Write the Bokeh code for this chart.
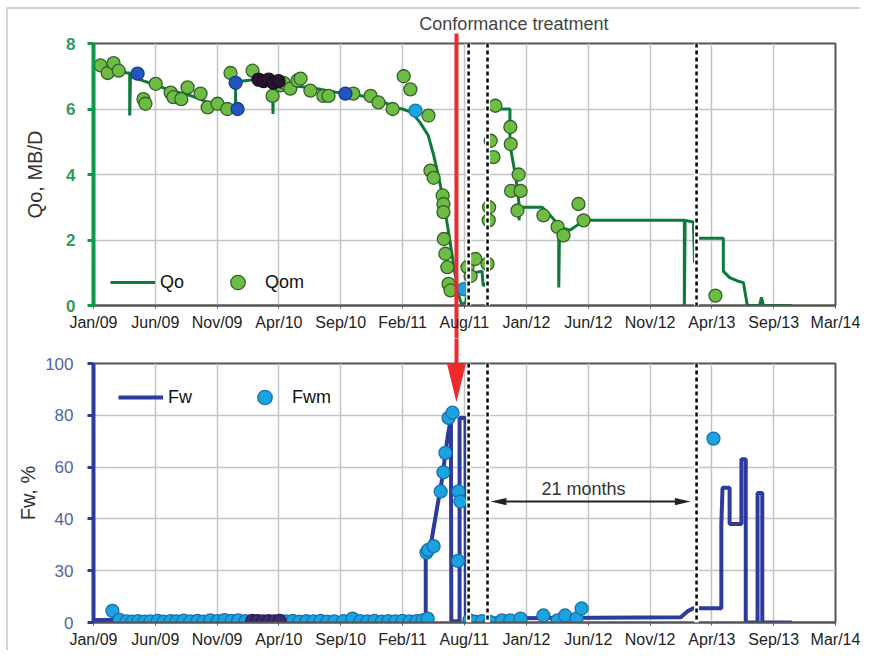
import pandas as pd
from bokeh.plotting import figure
from bokeh.layouts import column
from bokeh.models import (Range1d, FixedTicker, Span, Arrow, Label, Legend,
                          LegendItem, PolyAnnotation, LinearAxis)
from bokeh.embed import file_html
from bokeh.resources import INLINE

# ---------------- data ----------------
START = "2009-01-01"
END = "2014-03-01"
x_tick_labels = ["Jan/09", "Jun/09", "Nov/09", "Apr/10", "Sep/10", "Feb/11", "Aug/11",
                 "Jan/12", "Jun/12", "Nov/12", "Apr/13", "Sep/13", "Mar/14"]
qo_ticks = [0, 2, 4, 6, 8]
fw_ticks = [0, 20, 40, 60, 80, 100]
fw_tick_labels = ["0", "30", "40", "60", "80", "100"]

qo_dates = ["2009-01-04", "2009-03-10", "2009-03-25", "2009-04-03", "2009-04-03", "2009-04-05",
            "2009-05-10", "2009-06-15", "2009-07-20", "2009-08-25", "2009-09-30", "2009-10-25",
            "2009-11-20", "2009-12-10", "2009-12-28", "2009-12-28", "2010-01-10", "2010-02-20",
            "2010-03-20", "2010-04-01", "2010-04-02", "2010-04-03", "2010-06-01", "2010-08-01",
            "2010-09-15", "2010-11-15", "2011-01-10", "2011-02-05", "2011-02-25", "2011-03-20",
            "2011-04-10", "2011-05-01", "2011-05-15", "2011-05-30", "2011-06-12", "2011-06-25",
            "2011-07-08", "2011-07-18", "2011-07-25", "2011-08-05", "2011-08-15", "2011-08-28",
            "2011-09-15", "2011-09-18", "2011-09-28", "2011-09-28", "2011-11-25", "2011-11-25",
            "2011-12-10", "2011-12-18", "2011-12-18", "2011-12-20", "2012-02-15", "2012-03-10",
            "2012-03-28", "2012-03-28", "2012-03-30", "2012-04-25", "2012-05-20", "2012-06-05",
            "2013-02-10", "2013-02-10", "2013-02-12", "2013-03-05", "2013-03-08", "2013-03-12",
            "2013-05-20", "2013-05-20", "2013-06-05", "2013-06-25", "2013-07-10", "2013-07-20",
            "2013-08-20", "2013-08-25", "2013-08-30", "2013-11-10"]
qo_values = [7.30, 7.30, 7.10, 7.10, 5.80, 7.00,
             6.85, 6.70, 6.55, 6.45, 6.30, 6.15,
             6.00, 6.00, 6.05, 6.80, 6.85, 6.90,
             6.85, 6.85, 5.85, 6.80, 6.70, 6.60,
             6.50, 6.40, 6.20, 6.05, 6.00, 5.90,
             5.60, 5.20, 4.60, 3.80, 3.00, 2.00,
             1.00, 0.30, 0.05, 0.10, 0.80, 1.00,
             1.05, 0.60, 0.70, 6.00, 6.00, 4.90,
             3.90, 3.10, 2.60, 3.00, 3.00, 2.70,
             2.45, 0.55, 2.40, 2.30, 2.50, 2.60,
             2.60, 0.00, 2.60, 2.55, 1.30, 2.05,
             2.05, 1.05, 0.85, 0.75, 0.70, 0.00,
             0.00, 0.25, 0.00, 0.00]

qom_dates = ["2009-01-19", "2009-02-06", "2009-02-21", "2009-03-06", "2009-05-08", "2009-05-13",
             "2009-06-08", "2009-07-16", "2009-07-23", "2009-08-12", "2009-08-28", "2009-09-30",
             "2009-10-18", "2009-11-12", "2009-12-07", "2009-12-15", "2010-02-09", "2010-04-01",
             "2010-04-21", "2010-04-29", "2010-05-16", "2010-06-03", "2010-06-11", "2010-07-06",
             "2010-08-08", "2010-08-21", "2010-10-23", "2010-12-06", "2010-12-26", "2011-01-31",
             "2011-02-28", "2011-03-17", "2011-05-02", "2011-05-07", "2011-05-15", "2011-06-07",
             "2011-06-09", "2011-06-09", "2011-06-10", "2011-06-14", "2011-06-19", "2011-06-22",
             "2011-06-27", "2011-08-09", "2011-08-17", "2011-08-29", "2011-09-29", "2011-10-02",
             "2011-10-03", "2011-10-07", "2011-10-14", "2011-10-19", "2011-11-26", "2011-11-27",
             "2011-11-28", "2011-12-14", "2011-12-17", "2011-12-22", "2012-02-18", "2012-03-25",
             "2012-04-09", "2012-05-17", "2012-05-30", "2013-04-30"]
qom_values = [7.33, 7.10, 7.40, 7.17, 6.30, 6.16,
              6.77, 6.50, 6.36, 6.30, 6.66, 6.47,
              6.05, 6.16, 6.00, 7.10, 7.17, 6.40,
              6.72, 6.80, 6.62, 6.87, 6.93, 6.56,
              6.40, 6.40, 6.47, 6.40, 6.20, 6.00,
              7.00, 6.60, 5.80, 4.12, 3.90, 3.36,
              3.10, 2.85, 2.03, 1.58, 1.17, 0.66,
              0.46, 1.17, 0.90, 1.42, 1.27, 2.60,
              3.00, 5.03, 4.53, 6.10, 5.45, 4.93,
              3.50, 2.90, 4.00, 3.50, 2.75, 2.40,
              2.14, 3.10, 2.60, 0.30]
qom_blue_dates = ["2009-04-23", "2009-12-28", "2010-01-02", "2010-10-03"]
qom_blue_values = [7.08, 6.80, 6.00, 6.47]
qom_dark_dates = ["2010-02-24", "2010-03-09", "2010-03-22", "2010-04-03", "2010-04-16"]
qom_dark_values = [6.90, 6.85, 6.90, 6.80, 6.85]
qom_cyan_dates = ["2011-03-30", "2011-07-31"]
qom_cyan_values = [5.95, 0.50]

fw_dates = ["2009-01-04", "2011-04-25", "2011-04-25", "2011-05-10", "2011-06-05", "2011-06-20",
            "2011-06-28", "2011-06-29", "2011-07-20", "2011-07-20", "2011-08-04", "2011-08-05",
            "2011-08-10", "2013-02-01", "2013-02-20", "2013-03-05", "2013-05-15", "2013-05-15",
            "2013-05-18", "2013-06-05", "2013-06-05", "2013-07-05", "2013-07-05", "2013-07-16",
            "2013-07-16", "2013-08-15", "2013-08-15", "2013-08-27", "2013-08-27", "2013-11-10"]
fw_values = [1.0, 1.0, 27.0, 32.0, 55.0, 72.0,
             79.0, 0.5, 0.5, 79.0, 79.0, 0.5,
             1.5, 2.0, 4.5, 5.5, 5.5, 38.0,
             52.0, 52.0, 38.0, 38.0, 63.0, 63.0,
             0.0, 0.0, 50.0, 50.0, 0.0, 0.0]

fwm_dates = ["2009-02-18", "2009-03-08", "2009-03-26", "2009-04-10", "2009-04-25", "2009-05-11",
             "2009-05-26", "2009-06-13", "2009-06-28", "2009-07-16", "2009-07-31", "2009-08-18",
             "2009-09-04", "2009-09-22", "2009-10-07", "2009-10-25", "2009-11-12", "2009-11-30",
             "2009-12-18", "2010-01-04", "2010-01-22", "2010-05-04", "2010-05-22", "2010-06-08",
             "2010-06-26", "2010-07-14", "2010-08-01", "2010-08-18", "2010-09-05", "2010-09-28",
             "2010-10-21", "2010-11-10", "2010-11-28", "2010-12-16", "2011-01-03", "2011-01-20",
             "2011-02-07", "2011-02-25", "2011-03-15", "2011-04-02", "2011-04-17", "2011-04-30",
             "2011-04-27", "2011-05-01", "2011-05-15", "2011-06-02", "2011-06-09", "2011-06-14",
             "2011-06-22", "2011-07-02", "2011-07-16", "2011-07-17", "2011-07-22", "2011-08-14",
             "2011-08-28", "2011-09-15", "2011-10-05", "2011-11-05", "2011-11-26", "2011-12-22",
             "2012-02-18", "2012-03-25", "2012-04-13", "2012-05-12", "2012-05-25", "2013-04-25"]
fwm_values = [4.5, 1.0, 0.4, 0.3, 0.5, 0.3,
              0.4, 0.6, 0.3, 0.5, 0.4, 0.7,
              0.4, 0.6, 0.3, 0.8, 0.5, 0.9,
              0.6, 0.8, 0.5, 0.4, 0.6, 0.3,
              0.5, 0.4, 0.6, 0.3, 0.4, 0.5,
              1.5, 0.5, 0.4, 0.6, 0.3, 0.5,
              0.4, 0.6, 0.4, 0.5, 0.8, 1.5,
              27.0, 28.0, 29.5, 50.6, 58.0, 65.5,
              79.0, 81.0, 23.8, 50.6, 46.7, 0.8,
              0.3, 0.5, 0.2, 0.8, 0.8, 1.5,
              2.7, 0.8, 2.7, 1.5, 5.4, 71.0]
fwm_dark_dates = ["2010-02-08", "2010-02-22", "2010-03-08", "2010-03-22", "2010-04-05", "2010-04-19"]
fwm_dark_values = [0.6, 0.5, 0.4, 0.5, 0.4, 0.6]

treatment_date = "2011-07-12"
dashed_dates = ["2011-08-12", "2011-09-29", "2013-03-13"]
months_arrow_dates = ["2011-10-07", "2013-02-26"]
months_arrow_level = 46.7
months_text = "21 months"
months_text_date = "2012-05-30"
title_text = "Conformance treatment"
title_date = "2011-12-05"


def days(dates):
    return [int(d) for d in (pd.to_datetime(pd.Series(dates)) - pd.Timestamp(START)).dt.days]


X_END = days([END])[0]
x_ticks = [round(k * X_END / (len(x_tick_labels) - 1)) for k in range(len(x_tick_labels))]
xr = days([treatment_date])[0]
xt = days([title_date])[0]

FONT = "Liberation Sans"
GREEN_LINE = "#0b7a3b"
GREEN_AX = "#0a9a48"
BLUE_LINE = "#2d3b9c"
RED = "#ee2a2e"
LEFT = 85


def make_fig(height, btop, bbot, ymax, yticks, ycolor, ylabcolor, ylabel, ystand, alstand,
             bold, red_below):
    p = figure(width=LEFT + 742 + 25, height=height, x_range=Range1d(0, X_END),
               y_range=Range1d(0, ymax), output_backend="svg", toolbar_location=None,
               min_border_left=LEFT, min_border_right=25, min_border_top=btop,
               min_border_bottom=bbot)
    p.background_fill_color = "white"
    p.border_fill_color = "white"
    p.outline_line_color = "#555555"
    p.outline_line_width = 2
    xa = p.xaxis[0]
    xa.ticker = FixedTicker(ticks=x_ticks, minor_ticks=[xr] if red_below else [])
    xa.major_label_overrides = dict(zip(x_ticks, x_tick_labels))
    xa.major_label_text_font = FONT
    xa.major_label_text_font_size = "16px"
    xa.major_label_text_color = "#222222"
    xa.axis_line_color = "#555555"
    xa.axis_line_width = 2
    xa.major_tick_line_color = "#555555"
    xa.major_tick_out = 3
    xa.major_tick_in = 0
    if red_below:
        xa.minor_tick_line_color = RED
        xa.minor_tick_line_width = 4
        xa.minor_tick_out = bbot
        xa.minor_tick_in = 0
        xa.major_label_standoff = 8 - bbot
    else:
        xa.minor_tick_out = 0
        xa.minor_tick_in = 0
        xa.major_label_standoff = 5
    ya = p.yaxis[0]
    ya.ticker = FixedTicker(ticks=yticks)
    ya.axis_line_color = ycolor
    ya.axis_line_width = 4
    ya.major_tick_line_color = ycolor
    ya.major_tick_line_width = 3
    ya.major_tick_out = 6
    ya.major_tick_in = 0
    ya.major_label_standoff = ystand
    ya.major_label_text_font = FONT
    ya.major_label_text_font_size = "17px"
    ya.major_label_text_font_style = "bold" if bold else "normal"
    ya.major_label_text_color = ylabcolor
    ya.axis_label = ylabel
    ya.axis_label_text_font = FONT
    ya.axis_label_text_font_size = "20px"
    ya.axis_label_text_font_style = "normal"
    ya.axis_label_text_color = "#333333"
    ya.axis_label_standoff = alstand
    p.xgrid.ticker = FixedTicker(ticks=x_ticks)
    p.ygrid.ticker = FixedTicker(ticks=yticks)
    for g in (p.xgrid[0], p.ygrid[0]):
        g.grid_line_color = "#c4c4c4"
        g.grid_line_width = 1.5
    return p


def red_axis_above(p, tick_len, label=None):
    ticks = [xt] if label else []
    ax = LinearAxis(ticker=FixedTicker(ticks=ticks, minor_ticks=[xr]))
    ax.axis_line_alpha = 0
    ax.major_tick_out = tick_len
    ax.major_tick_in = 0
    ax.major_tick_line_alpha = 0
    ax.minor_tick_out = tick_len
    ax.minor_tick_in = 0
    ax.minor_tick_line_color = RED
    ax.minor_tick_line_width = 4
    ax.major_label_standoff = 0
    ax.major_label_text_font = FONT
    ax.major_label_text_font_size = "18px"
    ax.major_label_text_color = "#444444"
    if label:
        ax.major_label_overrides = {xt: label}
    p.add_layout(ax, "above")


def add_dashed(p):
    for d in days(dashed_dates):
        p.add_layout(Span(location=d, dimension="height", line_color="white", line_width=5))
        p.add_layout(Span(location=d, dimension="height", line_color="black",
                          line_width=2.5, line_dash="4 3"))


# ---------------- top panel ----------------
p1 = make_fig(329, 34, 33, 8, qo_ticks, GREEN_AX, "#2f9a5a", "Qo, MB/D", 12, 17, True, True)
qo_r = p1.line(days(qo_dates), qo_values, line_color=GREEN_LINE, line_width=3)
qom_r = p1.scatter(days(qom_dates), qom_values, size=13, fill_color="#6dbd45",
                   line_color="#35602a", line_width=1.3)
p1.scatter(days(qom_blue_dates), qom_blue_values, size=13, fill_color="#2255c0",
           line_color="#1a3a8a", line_width=1.3)
p1.scatter(days(qom_dark_dates), qom_dark_values, size=13, fill_color="#2a1530",
           line_color="#1a1020", line_width=1.3)
p1.scatter(days(qom_cyan_dates), qom_cyan_values, size=13, fill_color="#1ba3e0",
           line_color="#1577b0", line_width=1.3)
add_dashed(p1)
leg1 = Legend(items=[LegendItem(label="Qo", renderers=[qo_r]),
                     LegendItem(label="Qom", renderers=[qom_r])],
              orientation="horizontal", location=(17, 5), glyph_width=45, glyph_height=36,
              label_standoff=5, spacing=31, padding=0, margin=0,
              background_fill_alpha=0, border_line_alpha=0,
              label_text_font=FONT, label_text_font_size="18px", label_text_color="#111111")
p1.add_layout(leg1)
red_axis_above(p1, 10, title_text)
p1.add_layout(Arrow(end=None, x_start=xr, y_start=8.3, x_end=xr, y_end=-1.3,
                    line_color=RED, line_width=4))

# ---------------- bottom panel ----------------
p2 = make_fig(312, 25, 26, 100, fw_ticks, BLUE_LINE, "#5562a8", "Fw, %", 14, 3, False, False)
p2.yaxis[0].major_label_overrides = dict(zip(fw_ticks, fw_tick_labels))
fw_r = p2.line(days(fw_dates), fw_values, line_color=BLUE_LINE, line_width=4)
fwm_r = p2.scatter(days(fwm_dates), fwm_values, size=13, fill_color="#1ba3e0",
                   line_color="#1a6fae", line_width=1.3)
p2.scatter(days(fwm_dark_dates), fwm_dark_values, size=13, fill_color="#3b2a70",
           line_color="#2a1d55", line_width=1.3)
add_dashed(p2)
leg2 = Legend(items=[LegendItem(label="Fw", renderers=[fw_r]),
                     LegendItem(label="Fwm", renderers=[fwm_r])],
              orientation="horizontal", location=(25, 207), glyph_width=45, glyph_height=36,
              label_standoff=5, spacing=50, padding=0, margin=0,
              background_fill_alpha=0, border_line_alpha=0,
              label_text_font=FONT, label_text_font_size="18px", label_text_color="#111111")
p2.add_layout(leg2)
a0, a1 = days(months_arrow_dates)
p2.add_layout(Arrow(end=None, x_start=a0 + 20, y_start=months_arrow_level, x_end=a1 - 20,
                    y_end=months_arrow_level, line_color="#222222", line_width=2))
p2.add_layout(PolyAnnotation(xs=[a0, a0 + 40, a0 + 40],
                             ys=[months_arrow_level, months_arrow_level + 1.4, months_arrow_level - 1.4],
                             fill_color="#222222", fill_alpha=1, line_alpha=0))
p2.add_layout(PolyAnnotation(xs=[a1, a1 - 40, a1 - 40],
                             ys=[months_arrow_level, months_arrow_level + 1.4, months_arrow_level - 1.4],
                             fill_color="#222222", fill_alpha=1, line_alpha=0))
p2.add_layout(Label(x=days([months_text_date])[0], y=51.5, text=months_text, text_align="center",
                    text_baseline="middle", text_font=FONT, text_font_size="18px",
                    text_color="#333333"))
red_axis_above(p2, 25)
p2.add_layout(Arrow(end=None, x_start=xr, y_start=115, x_end=xr, y_end=95,
                    line_color=RED, line_width=4))
p2.add_layout(PolyAnnotation(xs=[xr - 26, xr + 26, xr], ys=[101.2, 101.2, 85.0],
                             fill_color=RED, fill_alpha=1, line_alpha=0))

layout = column(p1, p2, styles={"margin-left": "6px", "margin-top": "7px",
                                "border-left": "2px solid #d4d4d4",
                                "border-top": "2px solid #d4d4d4"})
open("out.html", "w").write(file_html(layout, INLINE))
